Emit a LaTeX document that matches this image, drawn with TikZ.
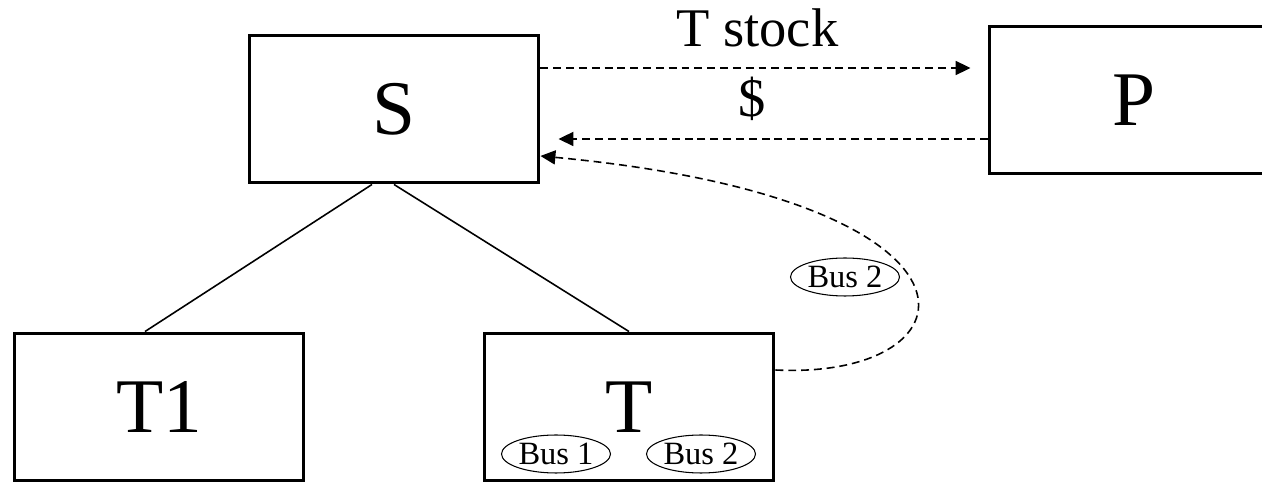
\documentclass[tikz,border=0pt]{standalone}
\usepackage{fontspec}
\setmainfont{Liberation Serif}
\usetikzlibrary{arrows.meta,shapes.geometric,positioning}

\tikzset{
  box/.style={draw, line width=1.7pt, minimum width=5.8cm, minimum height=2.96cm,
    font=\fontsize{44}{48}\selectfont},
  bus/.style={draw, ellipse, line width=0.6pt, inner sep=0pt, minimum width=2.18cm,
    minimum height=0.76cm, font=\fontsize{18.5}{20}\selectfont},
  flow/.style={->, dash pattern=on 4.5pt off 2.8pt, line width=0.9pt},
  flowlabel/.style={anchor=base, yshift=0.44cm, font=\fontsize{31}{34}\selectfont}
}

\begin{document}
\begin{tikzpicture}[x=0.02cm, y=-0.02cm, >={Triangle[length=8.5pt,width=8pt]}]

\useasboundingbox (0,0) rectangle (1262,482);

% firms
\node[box] (S) at (394,109) {S};
\node[box] (P) at (1134,100) {P};
\node[box] (T1) at (159,407) {T1};
\node[box] (T) at (629,407) {T};

% businesses
\node[bus] (bus1) at (556,454) {Bus 1};
\node[bus] (bus2) at (701,454) {Bus 2};
\node[bus] (bus2sold) at (845,277) {Bus 2};

% ownership
\draw[line width=0.9pt] ([xshift=-0.44cm]S.south) -- ([xshift=-0.28cm]T1.north);
\draw[line width=0.9pt] (S.south) -- (T.north);

% stock and cash
\draw[flow, shorten >=0.34cm] ([yshift=0.82cm]S.east) -- ([yshift=0.82cm]S.east -| P.west)
    node[flowlabel, pos=0.485] {T stock};
\draw[flow, shorten >=0.36cm] ([yshift=-0.78cm]P.west) -- ([yshift=-0.78cm]P.west -| S.east)
    node[flowlabel, pos=0.527] {\$};

% business transfer
\draw[flow] ([yshift=0.74cm]T.east) .. controls +(206,10) and +(470,44) .. ([yshift=-0.94cm]S.east);

\end{tikzpicture}
\end{document}
